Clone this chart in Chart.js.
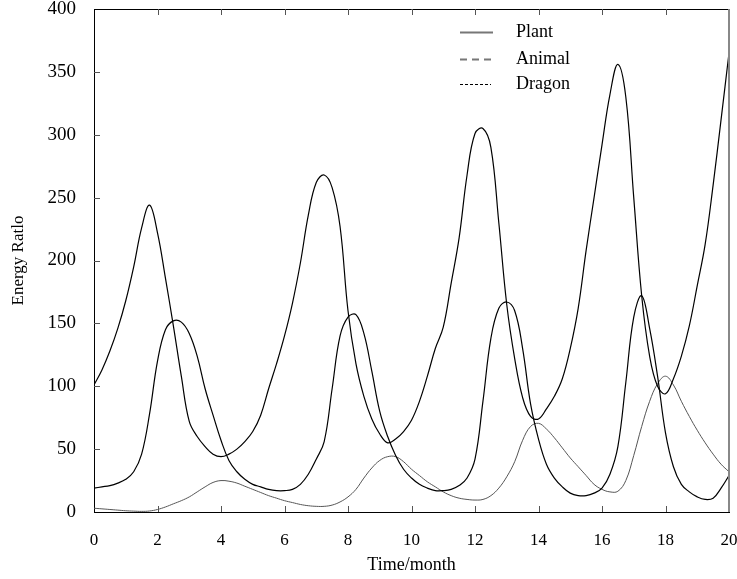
<!DOCTYPE html>
<html>
<head>
<meta charset="utf-8">
<script src="https://cdn.jsdelivr.net/npm/chart.js@4/dist/chart.umd.min.js"></script>
<style>
  html, body { margin: 0; padding: 0; background: #fff; }
</style>
</head>
<body>
<canvas id="chart" width="737" height="579"></canvas>
<script>
// time axis (months), sampled every quarter month
const time = [
  0, 0.25, 0.5, 0.75, 1, 1.25, 1.5, 1.75,
  2, 2.25, 2.5, 2.75, 3, 3.25, 3.5, 3.75,
  4, 4.25, 4.5, 4.75, 5, 5.25, 5.5, 5.75,
  6, 6.25, 6.5, 6.75, 7, 7.25, 7.5, 7.75,
  8, 8.25, 8.5, 8.75, 9, 9.25, 9.5, 9.75,
  10, 10.25, 10.5, 10.75, 11, 11.25, 11.5, 11.75,
  12, 12.25, 12.5, 12.75, 13, 13.25, 13.5, 13.75,
  14, 14.25, 14.5, 14.75, 15, 15.25, 15.5, 15.75,
  16, 16.25, 16.5, 16.75, 17, 17.25, 17.5, 17.75,
  18, 18.25, 18.5, 18.75, 19, 19.25, 19.5, 19.75,
  20
]

const plant = [
  101, 113, 128, 146, 168, 195, 226, 244,
  222, 186, 148, 108, 72, 60, 52, 46,
  44, 46, 50, 56, 64, 77, 98, 118,
  140, 166, 198, 236, 262, 268, 258, 227,
  160, 118, 92, 74, 62, 55, 58, 64,
  73, 88, 108, 130, 147, 182, 218, 268,
  301, 305, 290, 230, 165, 122, 91, 76,
  74, 82, 92, 106, 130, 162, 208, 250,
  292, 332, 356, 330, 250, 172, 124, 100,
  94, 106, 124, 148, 180, 213, 260, 312,
  365
]

const animal = [
  19, 20, 21, 23, 26, 32, 46, 78,
  120, 145, 152, 151, 142, 124, 98, 77,
  57, 41, 32, 26, 22, 20, 18, 17,
  17, 18, 22, 30, 42, 56, 98, 140,
  155, 157, 142, 112, 80, 60, 45, 34,
  27, 22, 19, 17, 17, 18, 21, 27,
  42, 88, 138, 162, 167, 160, 130, 86,
  58, 38, 27, 20, 15, 13, 13, 15,
  19, 30, 52, 103, 155, 172, 146, 108,
  63, 36, 22, 16, 12, 10, 11, 19,
  29
]

const dragon = [
  3, 2.5, 2, 1.5, 1, 0.7, 0.5, 0.8,
  2, 4, 6.5, 9, 12, 16, 20, 23.5,
  25, 24.5, 23, 20.5, 18, 15.5, 13, 11,
  9, 7.5, 6, 5, 4.5, 4.5, 5.5, 8,
  12, 18, 27, 35, 41, 44, 44, 40,
  34, 29, 24, 20, 16, 13, 11, 10,
  9.5, 10, 13, 19, 28, 40, 57, 68,
  70.5, 66, 59, 51, 43, 36, 29, 22,
  18, 16, 16.5, 25, 45, 68, 88, 102,
  108, 101, 88, 76, 65, 55, 46, 38,
  32
]

const seriesNames = ['Plant', 'Animal', 'Dragon']
const xTicks = { min: 0, max: 20, step: 2 }
const yTicks = { min: 0, max: 400, step: 50 }

const FONT = '"Liberation Serif", "Times New Roman", Times, serif'

const toPoints = (values) => values.map((v, i) => ({ x: time[i], y: v }))

// gnuplot-like inward tick marks plus the top/right frame
const frameTicks = {
  id: 'frameTicks',
  afterDraw(chart) {
    const { ctx, chartArea: a, scales: { x, y } } = chart
    ctx.save()
    ctx.lineWidth = 1
    ctx.strokeStyle = '#000'
    ctx.beginPath()
    ctx.moveTo(a.left, Math.round(a.top) + 0.5)
    ctx.lineTo(a.right, Math.round(a.top) + 0.5)
    ctx.stroke()

    ctx.strokeStyle = '#888'
    ctx.lineWidth = 2
    ctx.beginPath()
    ctx.moveTo(a.right, a.top)
    ctx.lineTo(a.right, a.bottom)
    ctx.stroke()

    ctx.strokeStyle = '#555'
    ctx.lineWidth = 1
    x.ticks.forEach(t => {
      if (t.value <= x.min || t.value >= x.max) return
      const px = Math.round(x.getPixelForValue(t.value)) + 0.5
      ctx.beginPath()
      ctx.moveTo(px, a.bottom)
      ctx.lineTo(px, a.bottom - 6)
      ctx.moveTo(px, a.top)
      ctx.lineTo(px, a.top + 6)
      ctx.stroke()
    })
    y.ticks.forEach(t => {
      if (t.value <= y.min || t.value >= y.max) return
      const py = Math.round(y.getPixelForValue(t.value)) + 0.5
      ctx.beginPath()
      ctx.moveTo(a.left, py)
      ctx.lineTo(a.left + 6, py)
      ctx.stroke()
    })
    ctx.restore()
  }
}

// legend drawn inside the plot, top right
const insideLegend = {
  id: 'insideLegend',
  afterDraw(chart) {
    const { ctx, chartArea: a } = chart
    const x0 = a.left + 366
    const rows = [32, 59, 84]
    ctx.save()
    chart.data.datasets.forEach((ds, i) => {
      const yr = rows[i]
      const st = ds.legendStyle
      ctx.strokeStyle = st.color
      ctx.lineWidth = st.width
      ctx.setLineDash(st.dash)
      ctx.beginPath()
      ctx.moveTo(x0, yr + 0.5)
      ctx.lineTo(x0 + st.length, yr + 0.5)
      ctx.stroke()
      ctx.setLineDash([])
      ctx.fillStyle = '#000'
      ctx.font = '18px ' + FONT
      ctx.textBaseline = 'middle'
      ctx.fillText(ds.label, x0 + 56, yr)
    })
    ctx.restore()
  }
}

new Chart(document.getElementById('chart').getContext('2d'), {
  type: 'line',
  data: {
    datasets: [
      {
        label: seriesNames[0],
        data: toPoints(plant),
        borderColor: '#000',
        borderWidth: 1.2,
        legendStyle: { color: '#777', width: 2, dash: [], length: 33 },
      },
      {
        label: seriesNames[1],
        data: toPoints(animal),
        borderColor: '#000',
        borderWidth: 1.2,
        legendStyle: { color: '#777', width: 2, dash: [7, 5], length: 33 },
      },
      {
        label: seriesNames[2],
        data: toPoints(dragon),
        borderColor: '#555',
        borderWidth: 1,
        legendStyle: { color: '#000', width: 1, dash: [3, 2], length: 31 },
      },
    ],
  },
  options: {
    responsive: false,
    animation: false,
    devicePixelRatio: 1,
    layout: { padding: { left: 0, right: 8, top: 9, bottom: 0 } },
    elements: {
      point: { radius: 0 },
      line: { tension: 0.4, fill: false },
    },
    plugins: {
      legend: { display: false },
      tooltip: { enabled: false },
    },
    scales: {
      x: {
        type: 'linear',
        min: xTicks.min,
        max: xTicks.max,
        ticks: {
          stepSize: xTicks.step,
          color: '#000',
          padding: 18,
          maxRotation: 0,
          font: { family: FONT, size: 17 },
        },
        grid: { display: false, drawTicks: false },
        border: { color: '#000', width: 1 },
        title: {
          display: true,
          text: 'Time/month',
          color: '#000',
          font: { family: FONT, size: 18 },
          padding: { top: 0, bottom: 3 },
        },
        afterFit(scale) {
          scale.height = 67
          scale.paddingLeft = 0
          scale.paddingRight = 0
        },
      },
      y: {
        min: yTicks.min,
        max: yTicks.max,
        ticks: {
          stepSize: yTicks.step,
          color: '#000',
          padding: 18,
          font: { family: FONT, size: 19 },
        },
        grid: { display: false, drawTicks: false },
        border: { color: '#000', width: 1 },
        title: {
          display: true,
          text: 'Energy Ratlo',
          color: '#000',
          font: { family: FONT, size: 17 },
          padding: { top: 8, bottom: 0 },
        },
        afterFit(scale) {
          scale.width = 94
          scale.paddingTop = 0
          scale.paddingBottom = 0
        },
      },
    },
  },
  plugins: [frameTicks, insideLegend],
})
</script>
</body>
</html>
